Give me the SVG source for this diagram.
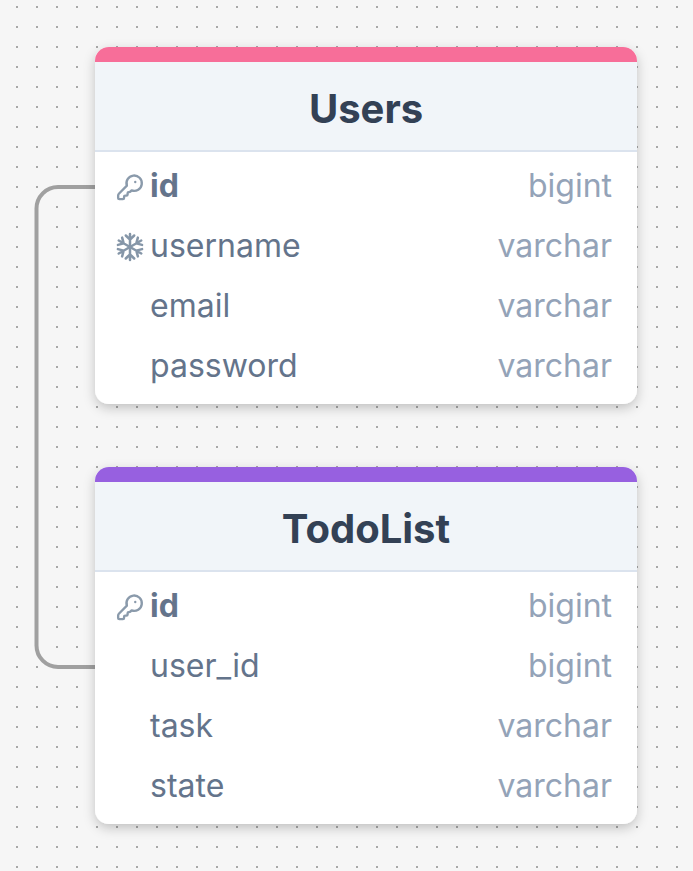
<svg xmlns="http://www.w3.org/2000/svg" width="693" height="871" viewBox="0 0 693 871">
<style>
text{font-family:Inter,"Liberation Sans",sans-serif}
.title{font-size:40px;font-weight:700;fill:#334155;text-anchor:middle}
.n{font-size:32px;fill:#64748b}
.pk{font-weight:700}
.t{font-size:32px;fill:#94a3b8;text-anchor:end}
.body{fill:#fff}
.head{fill:#f1f5f9}
.rule{stroke:#dbe3ee;stroke-width:2;fill:none}
.icon{fill:none;stroke:#8a9aab;stroke-width:2;stroke-linecap:round;stroke-linejoin:round}
.edge{fill:none;stroke:#a0a0a0;stroke-width:4}
.flake{fill:none;stroke:#8596a8;stroke-linecap:round;stroke-linejoin:round;stroke-width:2.500}
</style>
<defs>
<pattern id="dots" width="20" height="20" patternUnits="userSpaceOnUse" x="7" y="-3">
<rect x="9" y="9" width="2" height="2" fill="#a8a8a8"/>
</pattern>
<filter id="sh" x="-15%" y="-15%" width="130%" height="130%">
<feDropShadow dx="0" dy="4" stdDeviation="6" flood-color="#000" flood-opacity="0.22"/>
</filter>
<clipPath id="c1"><rect x="95" y="47" width="542" height="357" rx="14"/></clipPath>
<clipPath id="c2"><rect x="95" y="467" width="542" height="357" rx="14"/></clipPath>
<g id="key" transform="translate(115.800 173.200) scale(1.180)"><path class="icon" d="M2.586 17.414A2 2 0 0 0 2 18.828V21a1 1 0 0 0 1 1h3a1 1 0 0 0 1-1v-1a1 1 0 0 1 1-1h1a1 1 0 0 0 1-1v-1a1 1 0 0 1 1-1h.172a2 2 0 0 0 1.414-.586l.814-.814a6.500 6.500 0 1 0-4-4z"/><circle cx="16.500" cy="7.500" r="1" fill="#8a9aab"/></g>
<path id="arm" d="M130 247V234M125.800 235.500L130 239.700L134.200 235.500"/>
</defs>
<rect width="693" height="871" fill="#f6f6f6"/>
<rect width="693" height="871" fill="url(#dots)"/>
<g id="connectors"><path class="edge" d="M95 187H58A21.500 21.500 0 0 0 36.500 208.500V645.500A21.500 21.500 0 0 0 58 667H95"/></g>
<g id="users">
<rect x="95" y="47" width="542" height="357" rx="14" class="body" filter="url(#sh)"/>
<g clip-path="url(#c1)">
<rect x="95" y="47" width="542" height="15" fill="#f76e99"/>
<rect x="95" y="62" width="542" height="88" class="head"/>
<path class="rule" d="M95 151H637"/>
</g>
<text class="title" x="366" y="123">Users</text>
<use href="#key"/>
<text class="n pk" x="150" y="197.250">id</text><text class="t" x="612" y="197.250">bigint</text>
<g class="flake"><use href="#arm"/><use href="#arm" transform="rotate(60 130 247)"/><use href="#arm" transform="rotate(120 130 247)"/><use href="#arm" transform="rotate(180 130 247)"/><use href="#arm" transform="rotate(240 130 247)"/><use href="#arm" transform="rotate(300 130 247)"/></g>
<text class="n" x="150" y="257.250">username</text><text class="t" x="612" y="257.250">varchar</text>
<text class="n" x="150" y="317.250">email</text><text class="t" x="612" y="317.250">varchar</text>
<text class="n" x="150" y="377.250">password</text><text class="t" x="612" y="377.250">varchar</text>
</g>
<g id="todolist">
<rect x="95" y="467" width="542" height="357" rx="14" class="body" filter="url(#sh)"/>
<g clip-path="url(#c2)">
<rect x="95" y="467" width="542" height="15" fill="#9760e0"/>
<rect x="95" y="482" width="542" height="88" class="head"/>
<path class="rule" d="M95 571H637"/>
</g>
<text class="title" x="366" y="543">TodoList</text>
<use href="#key" y="420"/>
<text class="n pk" x="150" y="617.250">id</text><text class="t" x="612" y="617.250">bigint</text>
<text class="n" x="150" y="677.250">user_id</text><text class="t" x="612" y="677.250">bigint</text>
<text class="n" x="150" y="737.250">task</text><text class="t" x="612" y="737.250">varchar</text>
<text class="n" x="150" y="797.250">state</text><text class="t" x="612" y="797.250">varchar</text>
</g>
</svg>
